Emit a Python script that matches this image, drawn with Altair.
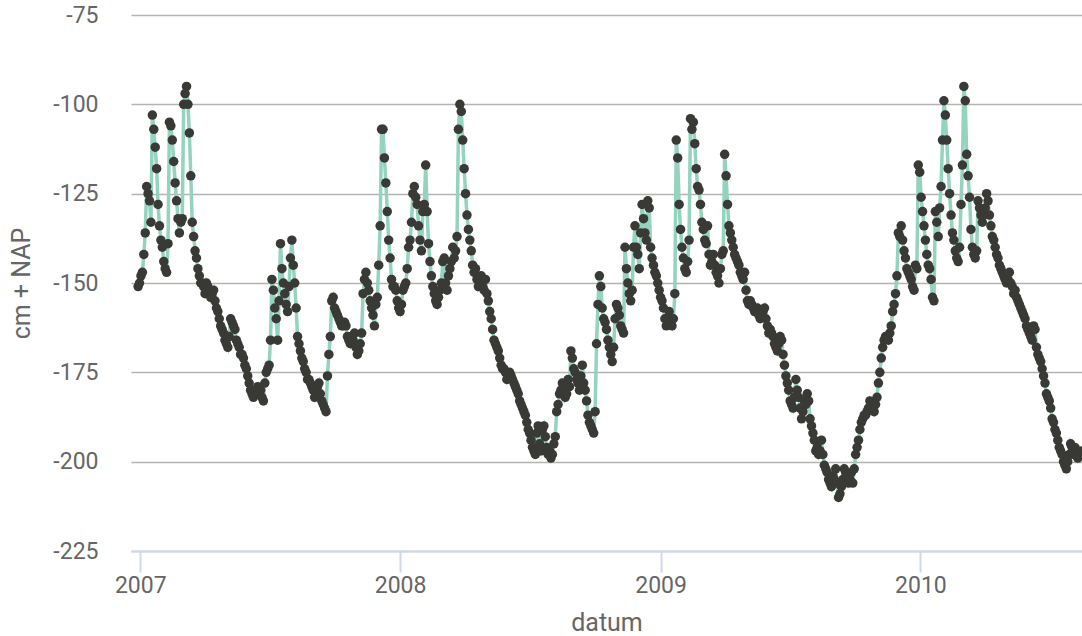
import altair as alt
import pandas as pd

# Groundwater level readings (cm + NAP), one value every 2 days from 2006-12-29
values_a = [-151, -150, -148, -147, -142, -136, -123, -125, -127, -133,
            -103, -107, -112, -118, -128, -134, -138, -140, -144, -146,
            -147, -139, -105, -106, -110, -116, -122, -127, -132, -136,
            -133, -132, -100, -97, -95, -100, -108, -120, -133, -137,
            -141, -143, -146, -148, -150, -150, -151, -153, -150, -151,
            -152, -154, -153, -152, -155, -157, -158, -160, -162, -163,
            -164, -166, -167, -168, -165, -160, -161, -162, -163, -166,
            -167, -168, -170, -170, -171, -173, -174, -176, -178, -180,
            -181, -182, -181, -180, -179, -181, -180, -182, -183, -178,
            -175, -174, -173, -166, -149, -152, -157, -160, -166, -155,
            -139, -146, -150, -153, -156, -158, -151, -143, -138, -145,
            -150, -157]
values_b = [-165, -167, -169, -171, -172, -174, -175, -177, -177, -178,
            -179, -180, -182, -181, -179, -178, -181, -183, -184, -185,
            -186, -176, -170, -165, -155, -154, -157, -158, -159, -160,
            -161, -162, -162, -161, -162, -165, -166, -167, -165, -166,
            -164, -168, -170, -169, -167, -164, -153, -149, -147, -150,
            -152, -155, -157, -159, -162, -156, -154, -145, -134, -107,
            -107, -115, -122, -130, -138, -143, -149, -151, -151, -152,
            -155, -157, -158, -156, -152, -151, -150, -146, -140, -138,
            -133, -125, -123, -126, -128, -134, -138, -141, -130, -128,
            -117, -130, -139, -144, -148, -151, -153, -155, -156, -154,
            -152, -150, -144, -143, -150, -152, -148, -146, -144, -140]
values_c = [-143, -141, -137, -107, -100, -102, -110, -118, -125, -131,
            -135, -138, -141, -145, -147, -146, -149, -151, -150, -148,
            -151, -152, -149, -153, -155, -158, -160, -163, -166, -167,
            -168, -169, -171, -173, -174, -174, -175, -177, -176, -175,
            -176, -177, -178, -179, -180, -181, -183, -184, -185, -186,
            -187, -189, -191, -192, -194, -196, -197, -198, -192, -190,
            -195, -197, -191, -190, -193, -196, -198, -197, -199, -198,
            -195, -193, -186, -184, -181, -180, -178, -179, -182, -181,
            -177, -179, -169, -171, -174, -175, -177, -178, -180, -176,
            -173, -178, -180, -183, -187, -189, -190, -191, -192, -186,
            -167, -156, -148, -151, -157, -160, -161, -163, -166, -168]
values_d = [-170, -172, -168, -160, -156, -157, -159, -162, -163, -164,
            -140, -146, -150, -153, -155, -152, -140, -134, -140, -142,
            -146, -136, -128, -132, -136, -138, -127, -129, -140, -143,
            -145, -147, -148, -150, -152, -154, -155, -157, -160, -162,
            -160, -158, -161, -162, -160, -153, -110, -115, -128, -135,
            -140, -143, -146, -147, -144, -138, -104, -107, -105, -111,
            -118, -123, -124, -128, -133, -135, -138, -139, -134, -142,
            -145, -144, -142, -145, -147, -148, -150, -146, -142, -141,
            -114, -120, -128, -134, -136, -138, -140, -142, -143, -144,
            -145, -147, -148, -149, -147, -152, -155, -156, -155, -156,
            -157, -158, -158, -157, -159, -160, -159, -158, -157, -160,
            -162, -164, -163, -164, -165, -167]
values_e = [-168, -169, -167, -165, -166, -170, -173, -176, -178, -180,
            -183, -184, -185, -182, -177, -180, -182, -185, -188, -186,
            -183, -184, -181, -183, -188, -190, -192, -194, -197, -196,
            -198, -197, -194, -198, -201, -202, -203, -205, -206, -207,
            -204, -205, -202, -206, -210, -209, -207, -205, -202, -203,
            -204, -206, -205, -203, -206, -202, -198, -196, -194, -191,
            -189, -188, -187, -187, -186, -185, -183, -184, -185, -186,
            -184, -182, -178, -175, -171, -168, -166, -165, -165, -166,
            -164, -162, -158, -156, -153, -148, -136, -137, -134, -138,
            -141, -143, -146, -147, -148, -149, -151, -152, -145, -146,
            -117, -119, -126, -130, -134, -138, -142, -145, -146, -149,
            -154, -155]
values_f = [-130, -133, -137, -129, -123, -110, -99, -103, -110, -118,
            -125, -131, -136, -138, -141, -143, -144, -140, -128, -117,
            -95, -99, -114, -120, -126, -135, -140, -142, -143, -141,
            -127, -129, -131, -133, -131, -129, -125, -127, -131, -134,
            -137, -138, -140, -142, -143, -145, -146, -147, -148, -149,
            -150, -149, -147, -150, -151, -153, -152, -154, -155, -156,
            -157, -158, -159, -160, -162, -163, -164, -165, -166, -162,
            -163, -168, -170, -171, -172, -174, -176, -178, -181, -182,
            -183, -185, -188, -189, -191, -192, -194, -196, -197, -198,
            -200, -201, -202, -200, -198, -195, -196, -198, -196, -197,
            -199, -198, -197]

values = values_a + values_b + values_c + values_d + values_e + values_f
dates = pd.date_range("2006-12-29", periods=len(values), freq="2D")
df = pd.DataFrame({"datum": dates, "stand": values})

x_enc = alt.X(
    "datum:T",
    title="datum",
    scale=alt.Scale(domain=["2006-12-19", "2010-08-16"]),
    axis=alt.Axis(
        format="%Y",
        tickCount={"interval": "year", "step": 1},
        grid=False,
        domainColor="#cdd7ef",
        domainWidth=2,
        tickColor="#cdd7ef",
        tickWidth=2,
        tickSize=21,
        labelPadding=2,
        labelFontSize=23,
        labelColor="#666666",
        titleFontSize=25,
        titleFontWeight="normal",
        titleColor="#666666",
        titlePadding=13,
    ),
)
y_enc = alt.Y(
    "stand:Q",
    title="cm + NAP",
    scale=alt.Scale(domain=[-225, -75], nice=False, zero=False),
    axis=alt.Axis(
        values=[-225, -200, -175, -150, -125, -100, -75],
        labelExpr="'' + datum.value",
        grid=True,
        gridColor="#b5b3b0",
        gridWidth=1.6,
        domain=False,
        ticks=False,
        labelPadding=33,
        labelFontSize=23,
        labelColor="#666666",
        titleFontSize=25,
        titleFontWeight="normal",
        titleColor="#666666",
        titlePadding=18,
    ),
)

line = alt.Chart(df).mark_line(color="#93d3bf", strokeWidth=3.5).encode(x=x_enc, y=y_enc)
points = alt.Chart(df).mark_circle(color="#393935", opacity=1, size=90).encode(x=x_enc, y=y_enc)

chart = (
    alt.layer(line, points)
    .properties(
        width=951,
        height=536,
        autosize=alt.AutoSizeParams(type="none"),
        padding={"left": 131, "top": 15, "right": 0, "bottom": 85},
    )
    .configure(font="Roboto")
    .configure_view(stroke=None)
)

chart.save("out.html", embed_options={"renderer": "svg", "actions": False})
